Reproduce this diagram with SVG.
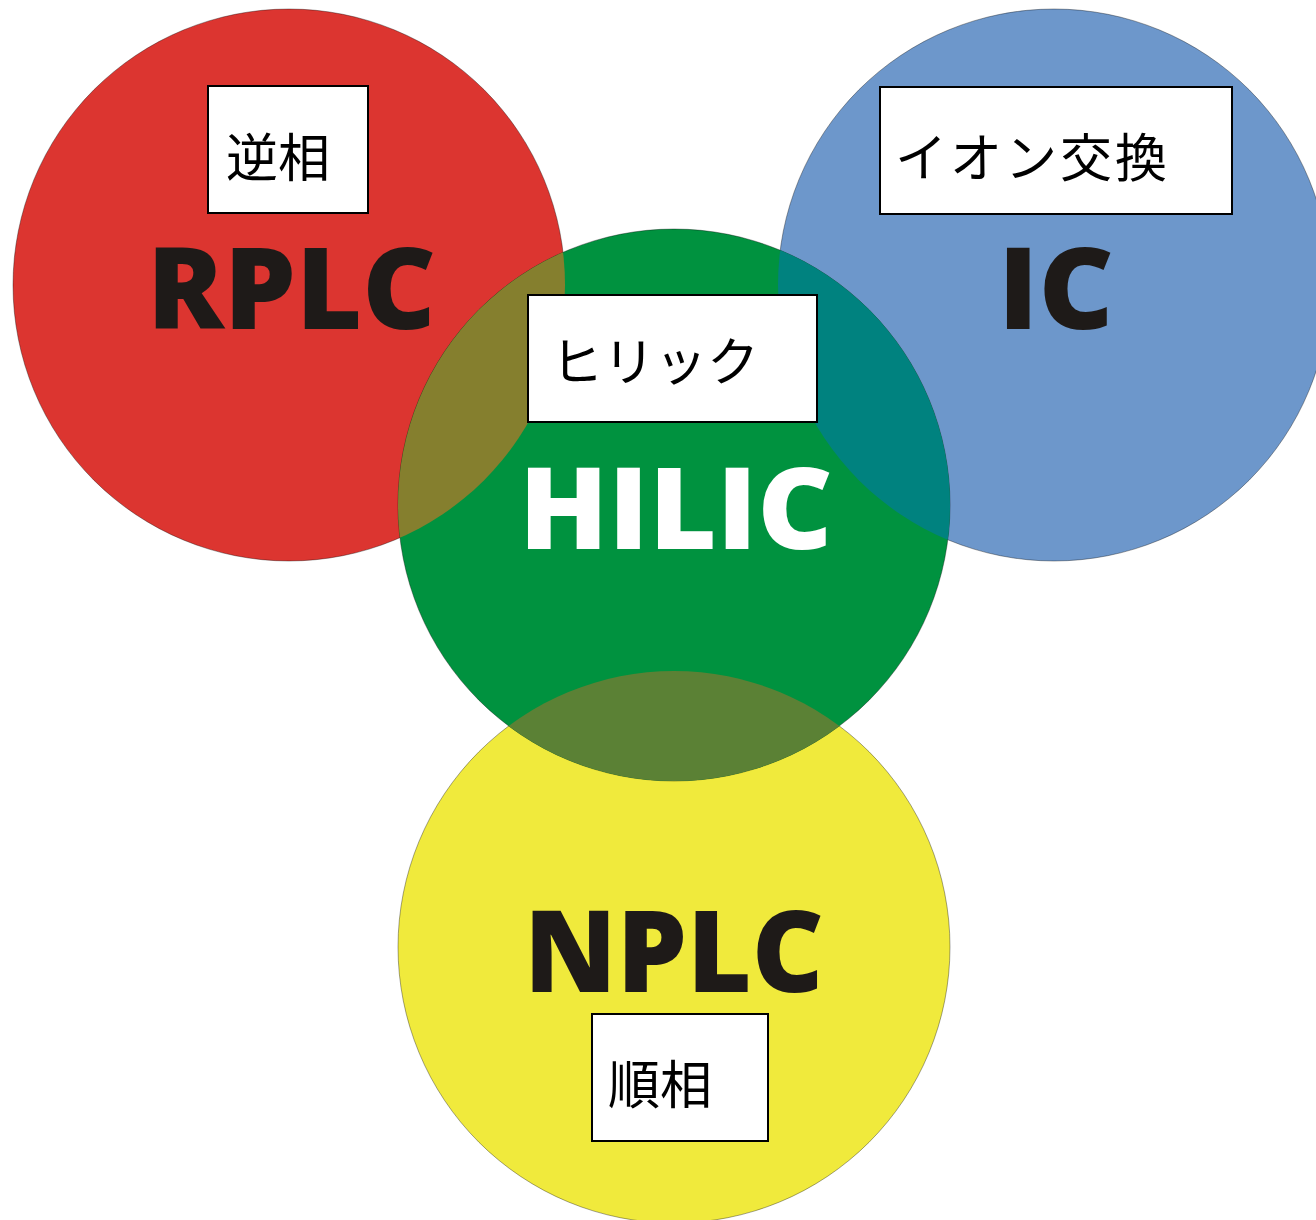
<svg xmlns="http://www.w3.org/2000/svg" width="1316" height="1220" viewBox="0 0 1316 1220">
<style>
.circ{stroke:#000;stroke-opacity:0.35;stroke-width:1}
.box{fill:#fff;stroke:#000;stroke-width:2}
.jp{font-family:"Noto Sans CJK JP","Noto Sans CJK SC",sans-serif;font-size:52px;fill:#000}
.big{font-family:"Open Sans","Liberation Sans",sans-serif;font-weight:800;font-size:114px}
</style>
<defs>
<clipPath id="cRed"><circle cx="289" cy="285" r="276"/></clipPath>
<clipPath id="cBlue"><circle cx="1054" cy="285" r="276"/></clipPath>
<clipPath id="cYellow"><circle cx="674" cy="947" r="276"/></clipPath>
</defs>
<rect width="1316" height="1220" fill="#fff"/>
<g id="rplc">
<circle class="circ" cx="289" cy="285" r="276" fill="#dc3530"/>
</g>
<g id="ic">
<circle class="circ" cx="1054" cy="285" r="276" fill="#6d97cb"/>
</g>
<g id="nplc">
<circle class="circ" cx="674" cy="947" r="276" fill="#f0ea3c"/>
</g>
<g id="hilic">
<circle class="circ" cx="674" cy="505" r="276" fill="#00923f"/>
<circle cx="674" cy="505" r="276" fill="#857f2e" clip-path="url(#cRed)"/>
<circle cx="674" cy="505" r="276" fill="#00827f" clip-path="url(#cBlue)"/>
<circle cx="674" cy="505" r="276" fill="#5b8135" clip-path="url(#cYellow)"/>
</g>
<g id="connectors"></g>
<g id="rplc-label">
<text class="big" x="147" y="329" textLength="289" lengthAdjust="spacingAndGlyphs" fill="#1e1a18">RPLC</text>
<rect class="box" x="208" y="86" width="160" height="127"/>
<text class="jp" x="226" y="177">逆相</text>
</g>
<g id="ic-label">
<text class="big" x="998" y="329" textLength="116" lengthAdjust="spacingAndGlyphs" fill="#1e1a18">IC</text>
<rect class="box" x="880" y="87" width="352" height="127"/>
<text class="jp" x="895" y="177" letter-spacing="3">イオン交換</text>
</g>
<g id="hilic-label">
<text class="big" x="519" y="549" textLength="314" lengthAdjust="spacingAndGlyphs" fill="#fff">HILIC</text>
<rect class="box" x="528" y="295" width="289" height="127"/>
<text class="jp" x="551" y="381" font-size="44" letter-spacing="0">ヒリック</text>
</g>
<g id="nplc-label">
<text class="big" x="524" y="992" textLength="300" lengthAdjust="spacingAndGlyphs" fill="#1e1a18">NPLC</text>
<rect class="box" x="592" y="1014" width="176" height="127"/>
<text class="jp" x="608" y="1104">順相</text>
</g>
</svg>
